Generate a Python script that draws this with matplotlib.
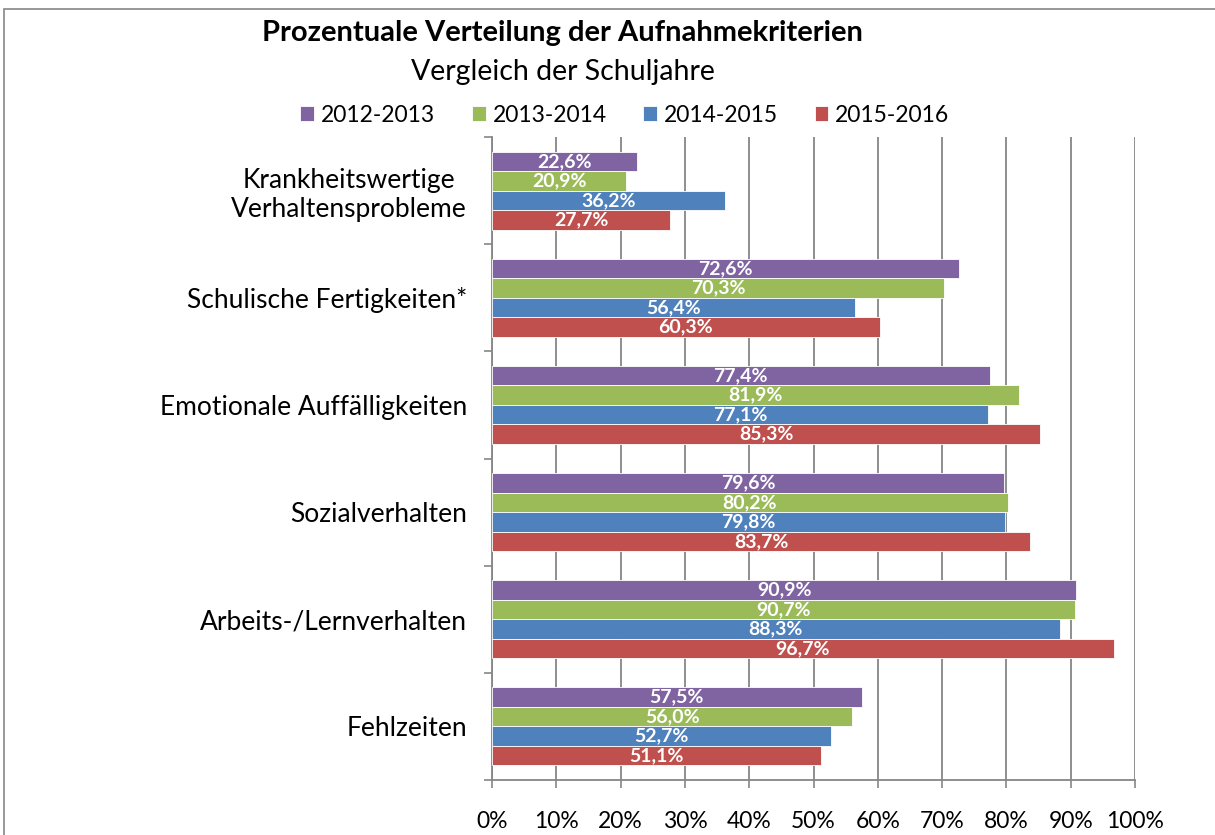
import matplotlib
matplotlib.use("Agg")
import matplotlib.pyplot as plt
import numpy as np
from matplotlib.patches import Rectangle

categories = ["Krankheitswertige\nVerhaltensprobleme", "Schulische Fertigkeiten*",
              "Emotionale Auffälligkeiten", "Sozialverhalten",
              "Arbeits-/Lernverhalten", "Fehlzeiten"]
series_names = ["2012-2013", "2013-2014", "2014-2015", "2015-2016"]
v2012 = [22.6, 72.6, 77.4, 79.6, 90.9, 57.5]
v2013 = [20.9, 70.3, 81.9, 80.2, 90.7, 56.0]
v2014 = [36.2, 56.4, 77.1, 79.8, 88.3, 52.7]
v2015 = [27.7, 60.3, 85.3, 83.7, 96.7, 51.1]
series_values = [v2012, v2013, v2014, v2015]
colors = ["#8064A2", "#9BBB59", "#4F81BD", "#C0504D"]
xticks = [0, 10, 20, 30, 40, 50, 60, 70, 80, 90, 100]

plt.rcParams['font.family'] = ['Lato', 'DejaVu Sans']

fig = plt.figure(figsize=(12.15, 8.35), dpi=100)
fig.patches.append(Rectangle((4/1215, -0.1), 1.2, 1 - 9/835 + 0.1, transform=fig.transFigure,
                             fill=False, edgecolor="#868686", linewidth=1.2))
ax = fig.add_axes([492/1215, 1 - 780/835, (1135-492)/1215, (780-137)/835])

n = len(categories)
ypos = np.arange(n)[::-1]
bh = 0.182
offsets = [1.5*bh, 0.5*bh, -0.5*bh, -1.5*bh]
for vals, name, col, off in zip(series_values, series_names, colors, offsets):
    bars = ax.barh(ypos + off, vals, height=bh, color=col, label=name,
                   edgecolor="white", linewidth=0.6, zorder=3)
    for b, v in zip(bars, vals):
        ax.text(v / 2, b.get_y() + bh/2, f"{v:.1f}%".replace(".", ","),
                ha="center", va="center", color="white", fontsize=14,
                fontweight="bold", zorder=4)

ax.set_xlim(0, 100)
ax.set_ylim(-0.5, n - 0.5)
ax.set_xticks(xticks)
ax.set_xticklabels([f"{t}%" for t in xticks], fontsize=16.5)
ax.set_yticks(ypos)
ax.set_yticklabels(categories, fontsize=19, ha="right", multialignment="center")
ax.tick_params(axis="y", length=0, pad=18)
ax.set_yticks(np.arange(-0.5, n, 1), minor=True)
ax.tick_params(axis="y", which="minor", length=6, color="#868686", width=1.2)
ax.tick_params(axis="x", length=6, color="#868686", width=1.2, pad=16)
ax.grid(axis="x", color="#868686", linewidth=1.3, zorder=0)
for s in ["top", "right"]:
    ax.spines[s].set_visible(False)
for s in ["left", "bottom"]:
    ax.spines[s].set_color("#868686")
    ax.spines[s].set_linewidth(1.3)

fig.text(562/1215, 1 - 33/835, "Prozentuale Verteilung der Aufnahmekriterien",
         ha="center", va="center", fontsize=21, fontweight="bold")
fig.text(563/1215, 1 - 72/835, "Vergleich der Schuljahre",
         ha="center", va="center", fontsize=20.5)
leg = fig.legend(loc="center", bbox_to_anchor=(625/1215, 1 - 115/835), ncol=4,
                 frameon=False, fontsize=16.5, handlelength=0.6, handleheight=0.6,
                 handletextpad=0.3, columnspacing=1.6)

fig.savefig("out.png", dpi=100)
